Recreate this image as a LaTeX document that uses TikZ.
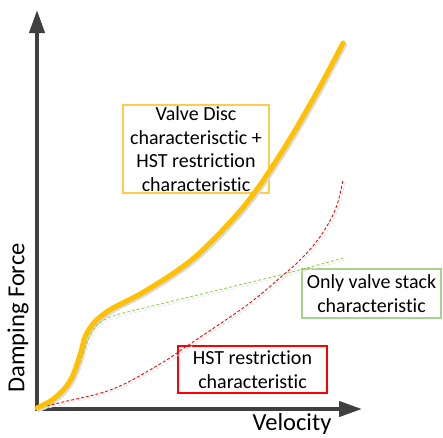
\documentclass[tikz,border=0pt]{standalone}
\usepackage{fontspec}
\setmainfont[Ligatures={NoCommon}]{Carlito}
\usetikzlibrary{arrows.meta}
\definecolor{axisgray}{HTML}{404040}
\definecolor{gold}{HTML}{FFC000}
\definecolor{goldbox}{HTML}{FFCC4D}
\definecolor{lgreen}{HTML}{92D050}
\definecolor{greenbox}{HTML}{A9D18E}
\definecolor{shadowgray}{HTML}{D9D9D9}
\tikzset{
  axis/.style={draw=axisgray, line width=4pt, -{Triangle[length=23pt,width=15pt]}},
  boxtext/.style={font=\fontsize{20}{23.5}\selectfont, align=center, inner sep=0pt, line width=1.1pt},
  axislabel/.style={font=\fontsize{24.5}{28}\selectfont, inner sep=0pt},
  goldcurve/.style={draw=gold, line width=5pt, line cap=round},
  greencurve/.style={draw=lgreen, line width=0.9pt, dash pattern=on 3pt off 2pt},
  redcurve/.style={draw=red, line width=0.9pt, dash pattern=on 3pt off 2pt},
}
\def\goldpts{(37,408) (52,400) (65,388) (73,375) (80,355) (85,337) (92,325) (100,317) (113,308) (147,290) (195,257) (245,205) (283,150) (317,92) (343,43)}
\def\greenpts{(37,408) (53,401) (66,389) (75,375) (82,357) (88,340) (97,325) (113,316) (148,307) (280,275) (343,258)}
\def\redpts{(37,408) (63,402) (113,389) (160,364) (187,346) (243,308) (267,289) (282,276) (297,263) (313,246) (327,226) (337,205) (343,180)}
\begin{document}
\begin{tikzpicture}[x=1pt, y=-1pt]
\useasboundingbox (0,0) rectangle (443,437);
% boxes
\node[boxtext, draw=goldbox, minimum width=146pt, minimum height=88pt] (valve) at (196,149) {Valve Disc\\characterisctic +\\HST restriction\\characteristic};
\node[boxtext, draw=greenbox, minimum width=139pt, minimum height=49pt] (only) at (371.5,293.5) {Only valve stack\\characteristic};
\node[boxtext, draw=red, minimum width=149pt, minimum height=47pt] (hst) at (252.5,369.5) {HST restriction\\characteristic};
% axes
\coordinate (Ybase) at (37,411);
\coordinate (Ytip) at (37,10);
\coordinate (Xbase) at (35,409);
\coordinate (Xtip) at (362,409);
\draw[axis] (Ybase) -- (Ytip);
\draw[axis] (Xbase) -- (Xtip);
% shadows
\begin{scope}[shift={(2,2)}]
\draw[draw=shadowgray, line width=4pt, line cap=round] plot[smooth, tension=0.55] coordinates {\goldpts};
\draw[draw=shadowgray!70, line width=0.8pt, dash pattern=on 3pt off 2pt] plot[smooth, tension=0.55] coordinates {\greenpts};
\draw[draw=shadowgray!70, line width=0.8pt, dash pattern=on 3pt off 2pt] plot[smooth, tension=0.6] coordinates {\redpts};
\end{scope}
% curves
\draw[greencurve] plot[smooth, tension=0.55] coordinates {\greenpts};
\draw[redcurve] plot[smooth, tension=0.6] coordinates {\redpts};
\draw[goldcurve] plot[smooth, tension=0.55] coordinates {\goldpts};
% axis labels
\node[axislabel, rotate=90] (yl) at (18,318) {Damping Force};
\node[axislabel] (xl) at (292,424) {Velocity};
\end{tikzpicture}
\end{document}
